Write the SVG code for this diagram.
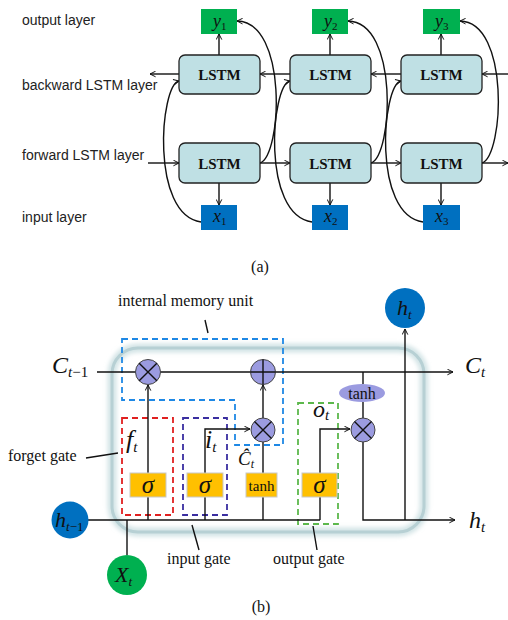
<svg xmlns="http://www.w3.org/2000/svg" width="508" height="620" viewBox="0 0 508 620">
<defs>
<marker id="arr" viewBox="0 0 10 10" refX="9" refY="5" markerWidth="7" markerHeight="7" orient="auto" markerUnits="userSpaceOnUse">
<path d="M1,1 L9,5 L1,9" fill="none" stroke="#111" stroke-width="1.4"/>
</marker>
<filter id="blur" x="-10%" y="-10%" width="120%" height="120%"><feGaussianBlur stdDeviation="2"/></filter>
</defs>
<style>
.lbl{font-family:"Liberation Sans",Arial,sans-serif;font-size:14px;fill:#222}
.ser{font-family:"Liberation Serif","Times New Roman",serif;fill:#111}
.it{font-style:italic}
.ln{stroke:#111;stroke-width:1.4;fill:none}
.lstm{fill:#bfe0e4;stroke:#222;stroke-width:1.3}
.ybox{fill:#00b050}
.xbox{fill:#0070c0}
.op{fill:#9b9be0;stroke:#444;stroke-width:1}
.sig{fill:#ffc000;stroke:#c8c8c8;stroke-width:1}
.dash{fill:none;stroke-width:1.8;stroke-dasharray:6 4}
</style>
<rect width="508" height="620" fill="#fff"/>

<!-- Part (a) labels -->
<g id="labels-a">
<text class="lbl" x="22" y="25">output layer</text>
<text class="lbl" x="22" y="90">backward LSTM layer</text>
<text class="lbl" x="22" y="160">forward LSTM layer</text>
<text class="lbl" x="22" y="222">input layer</text>
<text class="ser" x="260" y="272" font-size="16" text-anchor="middle">(a)</text>
</g>

<g id="connectors-a">
<line class="ln" x1="219" y1="55" x2="219" y2="34" marker-end="url(#arr)"/>
<line class="ln" x1="330" y1="55" x2="330" y2="34" marker-end="url(#arr)"/>
<line class="ln" x1="441" y1="55" x2="441" y2="34" marker-end="url(#arr)"/>
<line class="ln" x1="219" y1="183" x2="219" y2="205" marker-end="url(#arr)"/>
<line class="ln" x1="330" y1="183" x2="330" y2="205" marker-end="url(#arr)"/>
<line class="ln" x1="441" y1="183" x2="441" y2="205" marker-end="url(#arr)"/>
<line class="ln" x1="179" y1="74" x2="150" y2="74" marker-end="url(#arr)"/>
<line class="ln" x1="290" y1="74" x2="260" y2="74" marker-end="url(#arr)"/>
<line class="ln" x1="401" y1="74" x2="371" y2="74" marker-end="url(#arr)"/>
<line class="ln" x1="508" y1="74" x2="482" y2="74" marker-end="url(#arr)"/>
<line class="ln" x1="148" y1="163" x2="179" y2="163" marker-end="url(#arr)"/>
<line class="ln" x1="260" y1="163" x2="290" y2="163" marker-end="url(#arr)"/>
<line class="ln" x1="371" y1="163" x2="401" y2="163" marker-end="url(#arr)"/>
<line class="ln" x1="482" y1="163" x2="508" y2="163" marker-end="url(#arr)"/>
<path class="ln" d="M201,222 C150,215 160,85 179,81" marker-end="url(#arr)"/>
<path class="ln" d="M312,222 C261,215 271,85 290,81" marker-end="url(#arr)"/>
<path class="ln" d="M423,222 C372,215 382,85 401,81" marker-end="url(#arr)"/>
<path class="ln" d="M260,163 C282,155 288,22 237,21" marker-end="url(#arr)"/>
<path class="ln" d="M371,163 C393,155 399,22 348,21" marker-end="url(#arr)"/>
<path class="ln" d="M482,163 C504,155 510,22 460,21" marker-end="url(#arr)"/>
</g>

<g id="y1"><rect class="ybox" x="201" y="9" width="36" height="25"/><text class="ser it" x="213" y="27" font-size="18">y<tspan font-style="normal" font-size="11" dy="3">1</tspan></text></g>
<g id="y2"><rect class="ybox" x="312" y="9" width="36" height="25"/><text class="ser it" x="324" y="27" font-size="18">y<tspan font-style="normal" font-size="11" dy="3">2</tspan></text></g>
<g id="y3"><rect class="ybox" x="423" y="9" width="37" height="25"/><text class="ser it" x="435" y="27" font-size="18">y<tspan font-style="normal" font-size="11" dy="3">3</tspan></text></g>

<g id="bw1"><rect class="lstm" x="179" y="55" width="81" height="39" rx="6"/><text class="ser" x="219.5" y="80" font-size="15" font-weight="bold" text-anchor="middle">LSTM</text></g>
<g id="bw2"><rect class="lstm" x="290" y="55" width="81" height="39" rx="6"/><text class="ser" x="330.5" y="80" font-size="15" font-weight="bold" text-anchor="middle">LSTM</text></g>
<g id="bw3"><rect class="lstm" x="401" y="55" width="81" height="39" rx="6"/><text class="ser" x="441.5" y="80" font-size="15" font-weight="bold" text-anchor="middle">LSTM</text></g>
<g id="fw1"><rect class="lstm" x="179" y="143" width="81" height="40" rx="6"/><text class="ser" x="219.5" y="168.5" font-size="15" font-weight="bold" text-anchor="middle">LSTM</text></g>
<g id="fw2"><rect class="lstm" x="290" y="143" width="81" height="40" rx="6"/><text class="ser" x="330.5" y="168.5" font-size="15" font-weight="bold" text-anchor="middle">LSTM</text></g>
<g id="fw3"><rect class="lstm" x="401" y="143" width="81" height="40" rx="6"/><text class="ser" x="441.5" y="168.5" font-size="15" font-weight="bold" text-anchor="middle">LSTM</text></g>

<g id="x1"><rect class="xbox" x="201" y="205" width="36" height="25"/><text class="ser it" x="213" y="222" font-size="18">x<tspan font-style="normal" font-size="11" dy="3">1</tspan></text></g>
<g id="x2"><rect class="xbox" x="312" y="205" width="36" height="25"/><text class="ser it" x="324" y="222" font-size="18">x<tspan font-style="normal" font-size="11" dy="3">2</tspan></text></g>
<g id="x3"><rect class="xbox" x="423" y="205" width="37" height="25"/><text class="ser it" x="435" y="222" font-size="18">x<tspan font-style="normal" font-size="11" dy="3">3</tspan></text></g>

<!-- Part (b) -->
<g id="cell-frame">
<rect x="112" y="348" width="312" height="184" rx="26" fill="none" stroke="#d3e4e6" stroke-width="9" filter="url(#blur)"/>
<rect x="112" y="348" width="312" height="184" rx="26" fill="none" stroke="#b7d0d4" stroke-width="3"/>
</g>

<g id="gate-boxes">
<path class="dash" stroke="#1e88e5" d="M122,339 H283 V445 H235 V400 H122 Z"/>
<rect class="dash" stroke="#e02020" x="122" y="418" width="51" height="97"/>
<rect class="dash" stroke="#3a2ea0" x="183" y="418" width="44" height="97"/>
<rect class="dash" stroke="#5cb84c" x="298" y="403" width="40" height="121"/>
</g>

<g id="connectors-b">
<line class="ln" x1="97" y1="372" x2="453" y2="372" marker-end="url(#arr)"/>
<line class="ln" x1="88" y1="520" x2="320" y2="520"/>
<line class="ln" x1="127" y1="520" x2="127" y2="555"/>
<line class="ln" x1="148" y1="520" x2="148" y2="497"/>
<line class="ln" x1="148" y1="473" x2="148" y2="385" marker-end="url(#arr)"/>
<line class="ln" x1="205" y1="520" x2="205" y2="497"/>
<polyline class="ln" points="205,473 205,429 250,429" marker-end="url(#arr)"/>
<line class="ln" x1="263" y1="520" x2="263" y2="497"/>
<line class="ln" x1="263" y1="473" x2="263" y2="442"/>
<line class="ln" x1="263" y1="418" x2="263" y2="385" marker-end="url(#arr)"/>
<line class="ln" x1="320" y1="520" x2="320" y2="497"/>
<polyline class="ln" points="320,473 320,429 350,429" marker-end="url(#arr)"/>
<line class="ln" x1="363" y1="372" x2="363" y2="384"/>
<line class="ln" x1="363" y1="402" x2="363" y2="418"/>
<polyline class="ln" points="363,442 363,520 455,520" marker-end="url(#arr)"/>
<line class="ln" x1="405" y1="520" x2="405" y2="329" marker-end="url(#arr)"/>
<line class="ln" x1="205" y1="320" x2="208" y2="333" stroke-width="1"/>
<line class="ln" x1="86" y1="458" x2="118" y2="453" stroke-width="1"/>
<line class="ln" x1="192" y1="525" x2="199" y2="550" stroke-width="1"/>
<line class="ln" x1="313" y1="526" x2="317" y2="550" stroke-width="1"/>
</g>

<g id="mul-forget"><circle class="op" cx="148" cy="372" r="12.5"/><path class="ln" stroke-width="1" d="M139.2,363.2 L156.8,380.8 M156.8,363.2 L139.2,380.8"/></g>
<g id="add-cell"><circle class="op" cx="263" cy="372" r="12.5"/><path class="ln" stroke-width="1" d="M263,359.5 V384.5 M250.5,372 H275.5"/></g>
<g id="mul-input"><circle class="op" cx="263" cy="430" r="12"/><path class="ln" stroke-width="1" d="M254.5,421.5 L271.5,438.5 M271.5,421.5 L254.5,438.5"/></g>
<g id="mul-output"><circle class="op" cx="363" cy="430" r="12"/><path class="ln" stroke-width="1" d="M354.5,421.5 L371.5,438.5 M371.5,421.5 L354.5,438.5"/></g>
<g id="tanh-cell"><ellipse cx="362" cy="393" rx="23" ry="9" fill="#9b9be0"/><text class="ser" x="362" y="398.5" font-size="16" text-anchor="middle">tanh</text></g>

<g id="sigma-forget"><rect class="sig" x="130" y="473" width="36" height="24"/><text class="ser it" x="148" y="493" font-size="25" text-anchor="middle">σ</text></g>
<g id="sigma-input"><rect class="sig" x="187" y="473" width="36" height="24"/><text class="ser it" x="205" y="493" font-size="25" text-anchor="middle">σ</text></g>
<g id="tanh-box"><rect class="sig" x="246" y="473" width="31" height="24"/><text class="ser" x="261.5" y="490.5" font-size="15" text-anchor="middle">tanh</text></g>
<g id="sigma-output"><rect class="sig" x="302" y="473" width="35" height="24"/><text class="ser it" x="319.5" y="493" font-size="25" text-anchor="middle">σ</text></g>

<g id="h-prev"><circle cx="70" cy="520" r="18.5" fill="#0070c0"/><text class="ser it" x="55" y="527" font-size="22">h<tspan font-size="13" dy="4">t</tspan><tspan font-style="normal" font-size="13">−1</tspan></text></g>
<g id="x-t"><circle cx="127" cy="575" r="20" fill="#00b050"/><text class="ser it" x="115" y="582" font-size="22">X<tspan font-size="13" dy="4">t</tspan></text></g>
<g id="h-t-top"><circle cx="405" cy="308" r="20" fill="#0070c0"/><text class="ser it" x="397" y="315" font-size="22">h<tspan font-size="13" dy="4">t</tspan></text></g>

<g id="labels-b">
<text class="ser" x="118" y="306" font-size="16">internal memory unit</text>
<text class="ser it" x="52" y="373" font-size="24">C<tspan font-size="15" dy="4">t</tspan><tspan font-style="normal" font-size="15">−1</tspan></text>
<text class="ser it" x="465" y="373" font-size="24">C<tspan font-size="15" dy="4">t</tspan></text>
<text class="ser it" x="469" y="528" font-size="24">h<tspan font-size="15" dy="4">t</tspan></text>
<text class="ser it" x="126" y="448" font-size="26">f<tspan font-size="15" dy="4">t</tspan></text>
<text class="ser it" x="205" y="448" font-size="26">i<tspan font-size="15" dy="4">t</tspan></text>
<text class="ser it" x="238" y="465" font-size="19">Ĉ<tspan font-size="12" dy="3">t</tspan></text>
<text class="ser it" x="313" y="417" font-size="24">o<tspan font-size="15" dy="3">t</tspan></text>
<text class="ser" x="8" y="461" font-size="16">forget gate</text>
<text class="ser" x="167" y="564" font-size="16">input gate</text>
<text class="ser" x="273" y="564" font-size="16">output gate</text>
<text class="ser" x="261" y="612" font-size="16" text-anchor="middle">(b)</text>
</g>
</svg>
